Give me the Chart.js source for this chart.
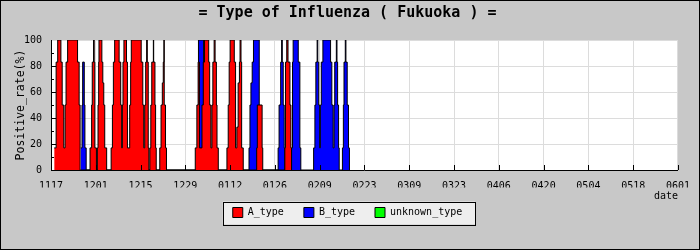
<!DOCTYPE html>
<html>
<head>
<meta charset="utf-8">
<script src="https://cdn.jsdelivr.net/npm/chart.js@4.4.0/dist/chart.umd.min.js"></script>
<style>
  html, body { margin: 0; padding: 0; background: #c8c8c8; }
  canvas { display: block; }
</style>
</head>
<body>
<canvas id="chart" width="700" height="250"></canvas>
<script>
// x axis: days from 11/17, one labelled tick every 14 days
const tickLabels = ['1117', '1201', '1215', '1229', '0112', '0126', '0209', '0223',
                    '0309', '0323', '0406', '0420', '0504', '0518', '0601'];
const seriesNames = ['A_type', 'B_type', 'unknown_type'];

// each rate holds from its day until the next entry
const aDays = [1.0, 1.6, 2.1, 3.1, 3.5, 4.0, 4.4, 4.7, 5.2, 8.3, 8.8, 9.1,
  12.2, 12.7, 12.9, 13.3, 13.5, 13.7, 14.2,
  14.5, 14.7, 14.9, 15.0, 15.9, 16.2, 16.5, 16.8, 17.4,
  18.8, 19.2, 19.5, 19.9, 21.3, 21.8, 22.1, 22.3, 22.5, 22.8, 23.6, 23.9, 24.6, 24.9, 25.1,
  28.2, 28.7, 29.0, 29.3, 29.6, 29.9, 30.1, 30.4, 30.6,
  30.9, 31.2, 31.5, 32.0, 32.1, 32.5, 32.7, 32.9,
  34.0, 34.4, 34.8, 35.1, 35.3, 35.4, 35.8, 36.1,
  45.1, 45.6, 46.0, 46.4, 47.2, 47.6, 48.0, 49.3, 49.6, 50.0, 50.3, 50.6, 51.0, 51.3, 51.7, 51.9, 52.3,
  55.0, 55.4, 55.7, 56.0, 57.3, 57.7, 58.1, 58.5, 58.9, 59.1, 59.4, 59.6, 60.1,
  64.3, 64.5, 66.0, 66.2,
  73.1, 73.3, 73.7, 74.1, 74.7, 75.0, 75.2];
const aRates = [17, 83, 100, 83, 50, 17, 50, 83, 100, 83, 50, 0,
  17, 50, 83, 100, 83, 17, 0,
  17, 50, 83, 100, 83, 67, 50, 17, 0,
  17, 50, 83, 100, 83, 50, 17, 50, 83, 100, 83, 17, 50, 83, 100,
  83, 50, 17, 50, 83, 100, 83, 17, 0,
  17, 50, 83, 100, 83, 50, 17, 0,
  17, 50, 67, 83, 100, 50, 17, 0,
  17, 50, 83, 17, 50, 83, 100, 83, 50, 17, 50, 83, 100, 83, 50, 17, 0,
  17, 50, 83, 100, 83, 17, 33, 67, 83, 100, 83, 17, 0,
  17, 50, 17, 0,
  17, 83, 100, 83, 50, 17, 0];

const bDays = [9.3, 9.7, 9.9, 10.4, 10.6, 11.0,
  46.1, 47.7,
  61.9, 62.2, 62.5, 62.9, 63.3, 65.1, 65.3,
  71.0, 71.3, 71.8, 72.1, 72.3, 72.6, 72.9, 73.1,
  75.2, 75.5, 75.7, 77.3, 77.8, 78.1,
  82.1, 82.5, 82.8, 83.2, 83.4, 83.7, 84.0, 84.2, 84.5, 85.0, 87.4, 87.8, 88.2, 88.5, 88.7,
  89.2, 89.4, 89.6, 89.9, 90.1,
  91.1, 91.4, 91.6, 92.0, 92.2, 92.6, 93.0, 93.3];
const bRates = [17, 50, 83, 50, 17, 0,
  100, 0,
  17, 50, 67, 83, 100, 50, 0,
  17, 50, 83, 100, 83, 50, 17, 0,
  17, 83, 100, 83, 17, 0,
  17, 50, 83, 100, 83, 50, 17, 50, 83, 100, 83, 50, 17, 50, 83,
  100, 83, 50, 17, 0,
  17, 50, 83, 100, 83, 50, 17, 0];

const unknownDays = [];
const unknownRates = [];

const mono = 'DejaVu Sans Mono';
Chart.defaults.font.family = mono;
Chart.defaults.color = '#000';

const toPoints = (days, rates) => days.map((d, i) => ({ x: d, y: rates[i] }));

function series(name, days, rates, fillColor) {
  return {
    label: name,
    data: toPoints(days, rates),
    backgroundColor: fillColor,
    borderColor: '#000',
    borderWidth: 1,
    fill: 'origin',
    stepped: true,
    pointRadius: 0,
  };
}

// grey page, white plot, legend frame, inner tick marks
const decor = {
  id: 'decor',
  beforeDraw(chart) {
    const { ctx, chartArea: a } = chart;
    ctx.save();
    ctx.fillStyle = '#c8c8c8';
    ctx.fillRect(0, 0, chart.width, chart.height);
    ctx.fillStyle = '#fff';
    ctx.fillRect(a.left, a.top, a.right - a.left, a.bottom - a.top);
    const boxes = chart.legend.legendHitBoxes;
    if (boxes.length) {
      const left = Math.min(...boxes.map(b => b.left)) - 10;
      const right = Math.max(...boxes.map(b => b.left + b.width)) + 13;
      const cy = boxes[0].top + boxes[0].height / 2;
      ctx.fillStyle = '#eeeeee';
      ctx.fillRect(left, cy - 11, right - left, 23);
      ctx.strokeStyle = '#000';
      ctx.lineWidth = 1;
      ctx.strokeRect(Math.round(left) + 0.5, Math.round(cy - 11) + 0.5, Math.round(right - left), 23);
    }
    ctx.restore();
  },
  afterDatasetsDraw(chart) {
    const { ctx, chartArea: a, scales } = chart;
    ctx.save();
    ctx.strokeStyle = '#000';
    ctx.lineWidth = 1;
    ctx.beginPath();
    for (let v = 0; v <= 196; v += 14) {
      const x = Math.round(scales.x.getPixelForValue(v)) + 0.5;
      ctx.moveTo(x, a.bottom);
      ctx.lineTo(x, a.bottom - 5);
    }
    for (let v = 10; v < 100; v += 10) {
      const y = Math.round(scales.y.getPixelForValue(v)) + 0.5;
      ctx.moveTo(a.left, y);
      ctx.lineTo(a.left + (v % 20 === 0 ? 5 : 3), y);
    }
    ctx.stroke();
    ctx.strokeRect(0.5, 0.5, chart.width - 1, chart.height - 1);
    ctx.restore();
  }
};

new Chart(document.getElementById('chart'), {
  type: 'line',
  data: {
    datasets: [
      series(seriesNames[0], aDays, aRates, '#ff0000'),
      series(seriesNames[1], bDays, bRates, '#0000ff'),
      series(seriesNames[2], unknownDays, unknownRates, '#00ff00'),
    ]
  },
  options: {
    responsive: false,
    animation: false,
    devicePixelRatio: 1,
    layout: { padding: { left: 14, right: 19, top: 0, bottom: 22.5 } },
    plugins: {
      title: {
        display: true,
        text: '= Type of Influenza ( Fukuoka ) =',
        font: { family: mono, size: 15, weight: 'bold' },
        padding: { top: 4, bottom: 18 }
      },
      legend: {
        position: 'bottom',
        labels: { boxWidth: 10, boxHeight: 10, padding: 20, font: { family: mono, size: 10 } }
      },
      tooltip: { enabled: false }
    },
    scales: {
      x: {
        type: 'linear',
        min: 0,
        max: 196,
        afterFit: s => { s.height = 17.5; },
        ticks: {
          stepSize: 14,
          autoSkip: false,
          maxRotation: 0,
          padding: 10,
          font: { size: 10 },
          callback: v => tickLabels[Math.round(v / 14)]
        },
        grid: { color: '#dcdcdc', drawTicks: false },
        border: { color: '#000' },
        title: { display: true, text: 'date', align: 'end', font: { size: 10 }, padding: { top: 0, bottom: -14.5 } }
      },
      y: {
        min: 0,
        max: 100,
        afterFit: s => { s.width = 37; },
        ticks: { stepSize: 20, padding: 9, font: { size: 10 } },
        grid: { color: '#dcdcdc', drawTicks: false },
        border: { color: '#000' },
        title: { display: true, text: 'Positive_rate(%)', font: { size: 11.5 }, padding: 0 }
      }
    }
  },
  plugins: [decor]
});
</script>
</body>
</html>
